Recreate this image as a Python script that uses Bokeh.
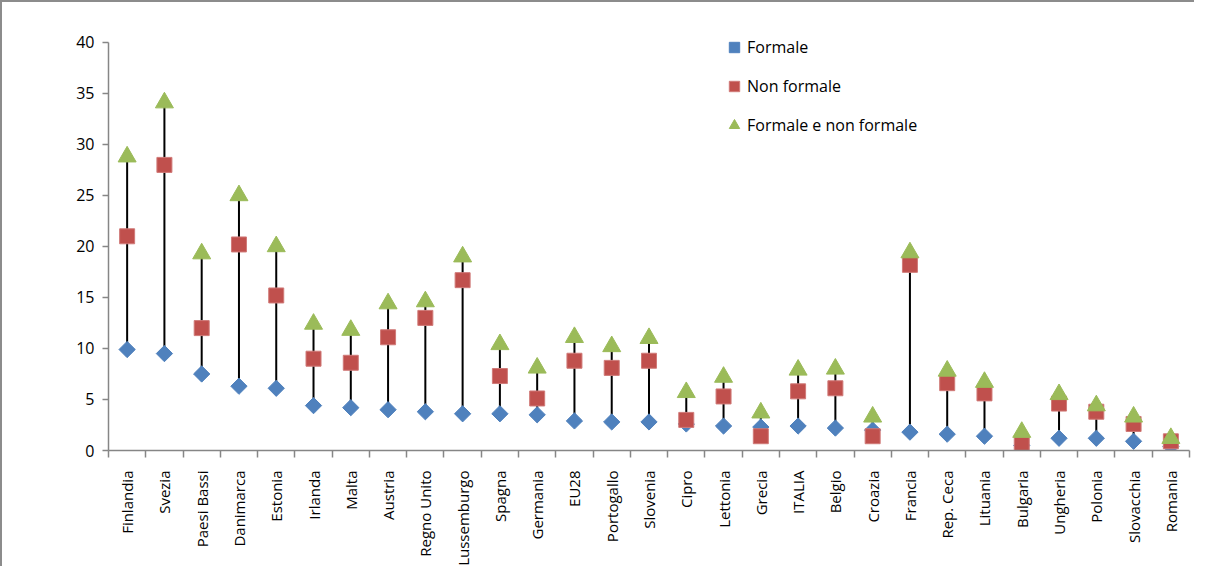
import numpy as np
from bokeh.plotting import figure
from bokeh.models import (Range1d, LinearAxis, FixedTicker, Legend, LegendItem,
                          ColumnDataSource)
from bokeh.embed import file_html
from bokeh.resources import INLINE

categories = ["Finlandia", "Svezia", "Paesi Bassi", "Danimarca", "Estonia", "Irlanda",
              "Malta", "Austria", "Regno Unito", "Lussemburgo", "Spagna", "Germania",
              "EU28", "Portogallo", "Slovenia", "Cipro", "Lettonia", "Grecia", "ITALIA",
              "Belgio", "Croazia", "Francia", "Rep. Ceca", "Lituania", "Bulgaria",
              "Ungheria", "Polonia", "Slovacchia", "Romania"]
formale = [9.9, 9.5, 7.5, 6.3, 6.1, 4.4, 4.2, 4.0, 3.8, 3.6, 3.6, 3.5, 2.9, 2.8, 2.8,
           2.6, 2.4, 2.3, 2.4, 2.2, 2.0, 1.8, 1.6, 1.4, 0.5, 1.2, 1.2, 0.9, 0.4]
non_formale = [21.0, 28.0, 12.0, 20.2, 15.2, 9.0, 8.6, 11.1, 13.0, 16.7, 7.3, 5.1, 8.8,
               8.1, 8.8, 3.0, 5.3, 1.4, 5.8, 6.1, 1.4, 18.2, 6.6, 5.6, 0.6, 4.6, 3.8,
               2.6, 0.9]
entrambi = [28.8, 34.1, 19.3, 25.0, 20.0, 12.4, 11.8, 14.4, 14.6, 19.0, 10.4, 8.1, 11.1,
            10.2, 11.0, 5.7, 7.2, 3.7, 7.9, 8.0, 3.3, 19.4, 7.8, 6.7, 1.8, 5.5, 4.4,
            3.3, 1.2]
y_ticks = [0, 5, 10, 15, 20, 25, 30, 35, 40]
series_names = ["Formale", "Non formale", "Formale e non formale"]

n = len(categories)
xs = np.arange(n) + 0.5
arr = np.array([formale, non_formale, entrambi])
lo = arr.min(axis=0)
hi = arr.max(axis=0)

FONT = "Open Sans"
AX = "#868686"

p = figure(width=1194, height=566, output_backend="svg", toolbar_location=None,
           x_range=Range1d(0, n), y_range=Range1d(0, 41.96),
           x_axis_type=None, y_axis_type=None,
           min_border_left=106, min_border_right=7, min_border_top=20,
           min_border_bottom=117)
p.outline_line_color = None
p.xgrid.visible = False
p.ygrid.visible = False
p.styles = {"border-top": "2px solid #8c8c8c", "border-left": "2px solid #8c8c8c"}

# y axis
yax = LinearAxis(ticker=FixedTicker(ticks=y_ticks), bounds=(0, 40))
yax.axis_line_color = AX
yax.axis_line_width = 1.5
yax.major_tick_line_color = AX
yax.major_tick_line_width = 1.5
yax.major_tick_out = 6
yax.major_tick_in = 0
yax.minor_tick_line_color = None
yax.major_label_text_font = FONT
yax.major_label_text_font_size = "16px"
yax.major_label_text_color = "#000000"
yax.major_label_standoff = 8
p.add_layout(yax, "left")

# x axis: tick marks between categories
xax = LinearAxis(ticker=FixedTicker(ticks=list(range(n + 1))))
xax.axis_line_color = AX
xax.axis_line_width = 1.5
xax.major_tick_line_color = AX
xax.major_tick_line_width = 1.5
xax.major_tick_out = 7
xax.major_tick_in = 0
xax.minor_tick_line_color = None
xax.major_label_text_font_size = "0px"
xax.major_label_overrides = {i: "" for i in range(n + 1)}
p.add_layout(xax, "below")

# labels axis
lax = LinearAxis(ticker=FixedTicker(ticks=list(xs)))
lax.axis_line_color = None
lax.major_tick_line_color = None
lax.minor_tick_line_color = None
lax.major_label_overrides = {float(x): c for x, c in zip(xs, categories)}
lax.major_label_orientation = np.pi / 2
lax.major_label_text_font = FONT
lax.major_label_text_font_size = "15px"
lax.major_label_text_color = "#000000"
lax.major_label_standoff = 7
p.add_layout(lax, "below")

src = ColumnDataSource(dict(x=xs, f=formale, nf=non_formale, t=entrambi, lo=lo, hi=hi))
p.segment(x0="x", y0="lo", x1="x", y1="hi", source=src, line_color="black", line_width=2)
r1 = p.scatter("x", "f", source=src, marker="square", angle=np.pi / 4, size=11.5,
               fill_color="#4F81BD", line_color="#4F81BD")
r2 = p.scatter("x", "nf", source=src, marker="square", size=15,
               fill_color="#C0504D", line_color="#D07A78", line_width=1)
r3 = p.scatter("x", "t", source=src, marker="triangle", size=18,
               fill_color="#9BBB59", line_color="#9BBB59")

legend = Legend(items=[LegendItem(label=series_names[0], renderers=[r1]),
                       LegendItem(label=series_names[1], renderers=[r2]),
                       LegendItem(label=series_names[2], renderers=[r3])],
                location=(613, 312), orientation="vertical")
legend.border_line_color = None
legend.background_fill_alpha = 0
legend.padding = 0
legend.margin = 0
legend.spacing = 13
legend.glyph_width = 26
legend.glyph_height = 26
legend.label_standoff = 0
legend.label_text_font = FONT
legend.label_text_font_size = "16px"
legend.label_text_color = "#000000"
p.add_layout(legend, "center")

open("out.html", "w").write(file_html(p, INLINE))
